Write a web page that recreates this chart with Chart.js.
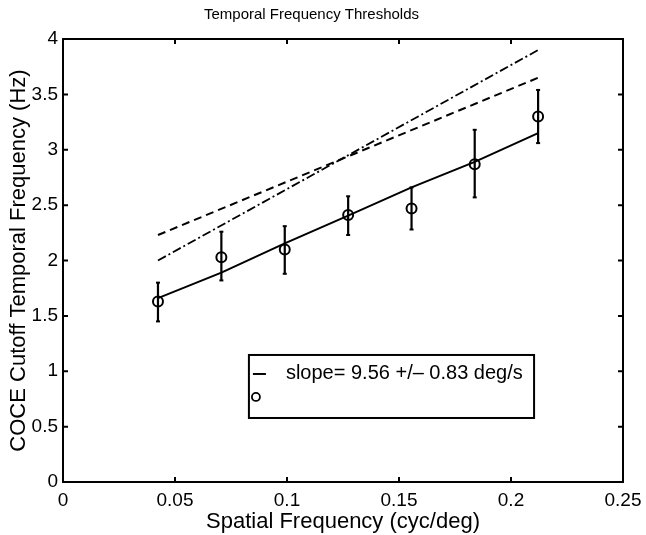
<!DOCTYPE html>
<html>
<head>
<meta charset="utf-8">
<script src="https://cdn.jsdelivr.net/npm/chart.js@4.4.1/dist/chart.umd.min.js"></script>
<style>
  html, body { margin: 0; padding: 0; background: #fff; }
  #wrap { width: 646px; height: 535px; }
</style>
</head>
<body>
<div id="wrap"><canvas id="chart"></canvas></div>
<script>
"use strict";

// spatial frequency (cyc/deg) for each measurement
const spatialFreq = [0.0424, 0.0707, 0.099, 0.1273, 0.1556, 0.1838, 0.2121];
// measured COCE cutoff temporal frequency (Hz)
const cutoff = [1.63, 2.03, 2.10, 2.41, 2.47, 2.87, 3.30];
const errLow = [1.45, 1.82, 1.88, 2.23, 2.28, 2.57, 3.06];
const errHigh = [1.80, 2.26, 2.31, 2.58, 2.66, 3.18, 3.54];
// fitted line
const fitValues = [1.66, 1.89, 2.155, 2.405, 2.66, 2.89, 3.15];
// comparison lines (end points)
const dashedEnds = [2.23, 3.65];
const dashDotEnds = [2.00, 3.90];

const xTicks = [0, 0.05, 0.1, 0.15, 0.2, 0.25];
const yTicks = [0, 0.5, 1, 1.5, 2, 2.5, 3, 3.5, 4];

const fitLabel = "slope= 9.56 +/\u2013 0.83 deg/s";
const FONT = "'Liberation Sans', Arial, Helvetica, sans-serif";

function pts(xs, ys) {
  return xs.map((x, i) => ({x: x, y: ys[i]}));
}

function errorBarPoints() {
  const out = [];
  for (let i = 0; i < spatialFreq.length; i++) {
    out.push({x: spatialFreq[i], y: errLow[i]});
    out.push({x: spatialFreq[i], y: errHigh[i]});
    out.push({x: spatialFreq[i], y: null});
  }
  return out;
}

const endXs = [spatialFreq[0], spatialFreq[spatialFreq.length - 1]];

// frame + inward ticks, MATLAB style
const framePlugin = {
  id: "frame",
  afterDraw(chart) {
    const ctx = chart.ctx;
    const a = chart.chartArea;
    const xs = chart.scales.x;
    const ys = chart.scales.y;
    ctx.save();
    ctx.strokeStyle = "#000";
    ctx.lineWidth = 2;
    ctx.strokeRect(a.left, a.top, a.right - a.left, a.bottom - a.top);
    ctx.beginPath();
    for (const t of xTicks) {
      const px = xs.getPixelForValue(t);
      ctx.moveTo(px, a.bottom); ctx.lineTo(px, a.bottom - 5);
      ctx.moveTo(px, a.top); ctx.lineTo(px, a.top + 5);
    }
    for (const t of yTicks) {
      const py = ys.getPixelForValue(t);
      ctx.moveTo(a.left, py); ctx.lineTo(a.left + 5, py);
      ctx.moveTo(a.right, py); ctx.lineTo(a.right - 5, py);
    }
    ctx.stroke();
    ctx.restore();
  }
};

// legend box inside the axes
const legendPlugin = {
  id: "boxLegend",
  afterDraw(chart) {
    const ctx = chart.ctx;
    const xs = chart.scales.x;
    const ys = chart.scales.y;
    const l = xs.getPixelForValue(0.083);
    const r = xs.getPixelForValue(0.2103);
    const t = ys.getPixelForValue(1.147);
    const b = ys.getPixelForValue(0.578);
    ctx.save();
    ctx.fillStyle = "#fff";
    ctx.fillRect(l, t, r - l, b - t);
    ctx.strokeStyle = "#000";
    ctx.lineWidth = 2;
    ctx.strokeRect(l, t, r - l, b - t);
    const row1 = t + 19;
    const row2 = t + 42;
    ctx.beginPath();
    ctx.moveTo(l + 4, row1);
    ctx.lineTo(l + 17, row1);
    ctx.stroke();
    ctx.lineWidth = 1.8;
    ctx.beginPath();
    ctx.arc(l + 7, row2, 4, 0, Math.PI * 2);
    ctx.stroke();
    ctx.fillStyle = "#000";
    ctx.font = "20px " + FONT;
    ctx.textBaseline = "middle";
    ctx.fillText(chart.data.datasets[0].label, l + 37, row1);
    ctx.restore();
  }
};

const ctx = document.getElementById("chart").getContext("2d");
new Chart(ctx, {
  type: "scatter",
  data: {
    datasets: [
      {
        label: fitLabel,
        data: pts(spatialFreq, fitValues),
        showLine: true,
        borderColor: "#000",
        borderWidth: 2,
        pointRadius: 0
      },
      {
        label: "",
        data: pts(spatialFreq, cutoff),
        showLine: false,
        pointStyle: "circle",
        pointRadius: 5,
        borderColor: "#000",
        backgroundColor: "rgba(0,0,0,0)",
        borderWidth: 2
      },
      {
        label: "error",
        data: errorBarPoints(),
        showLine: true,
        spanGaps: false,
        borderColor: "#000",
        borderWidth: 2.2,
        pointStyle: "line",
        pointRadius: 2,
        pointBorderWidth: 2
      },
      {
        label: "dashed",
        data: pts(endXs, dashedEnds),
        showLine: true,
        borderColor: "#000",
        borderWidth: 2,
        borderDash: [8, 5],
        pointRadius: 0
      },
      {
        label: "dashdot",
        data: pts(endXs, dashDotEnds),
        showLine: true,
        borderColor: "#000",
        borderWidth: 1.8,
        borderDash: [9, 3, 2, 3],
        pointRadius: 0
      }
    ]
  },
  options: {
    responsive: true,
    maintainAspectRatio: false,
    animation: false,
    layout: { padding: { top: 0, right: 23, bottom: 0, left: 0 } },
    plugins: {
      legend: { display: false },
      tooltip: { enabled: false },
      title: {
        display: true,
        text: "Temporal Frequency Thresholds",
        color: "#000",
        font: { family: FONT, size: 15, weight: "normal" },
        padding: { top: 6, bottom: 15 }
      }
    },
    scales: {
      x: {
        type: "linear",
        min: 0,
        max: 0.25,
        afterBuildTicks(scale) {
          scale.ticks = xTicks.map(v => ({value: v}));
        },
        afterFit(scale) {
          scale.height = 53;
          scale.paddingLeft = 0;
          scale.paddingRight = 0;
        },
        grid: { display: false, drawTicks: false },
        border: { display: false },
        ticks: {
          color: "#000",
          padding: 7,
          maxRotation: 0,
          font: { family: FONT, size: 19 },
          callback: v => String(v)
        },
        title: {
          display: true,
          text: "Spatial Frequency (cyc/deg)",
          color: "#000",
          font: { family: FONT, size: 22 },
          padding: { top: 0, bottom: 0 }
        }
      },
      y: {
        type: "linear",
        min: 0,
        max: 4,
        afterBuildTicks(scale) {
          scale.ticks = yTicks.map(v => ({value: v}));
        },
        afterFit(scale) {
          scale.width = 63;
          scale.paddingTop = 0;
          scale.paddingBottom = 0;
        },
        grid: { display: false, drawTicks: false },
        border: { display: false },
        ticks: {
          color: "#000",
          padding: 5,
          font: { family: FONT, size: 19 },
          callback: v => String(v)
        },
        title: {
          display: true,
          text: "COCE Cutoff Temporal Frequency (Hz)",
          color: "#000",
          font: { family: FONT, size: 22 },
          padding: { top: 6, bottom: 0 }
        }
      }
    }
  },
  plugins: [framePlugin, legendPlugin]
});
</script>
</body>
</html>
